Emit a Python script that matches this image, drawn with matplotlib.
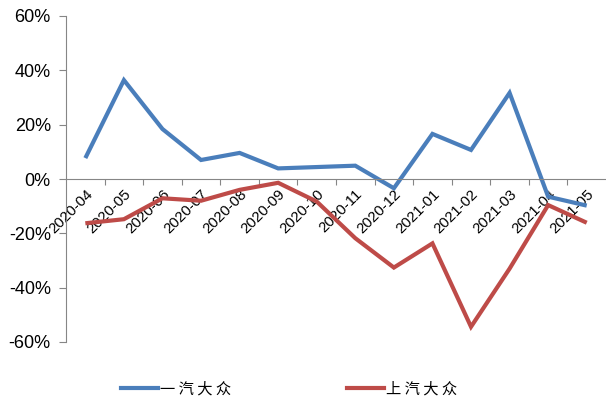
import matplotlib
matplotlib.use("Agg")
import matplotlib.pyplot as plt
from matplotlib.ticker import FixedLocator, FuncFormatter
from matplotlib.lines import Line2D

plt.rcParams['font.family'] = ['Liberation Sans', 'Noto Sans CJK SC', 'DejaVu Sans']

months = ["2020-04", "2020-05", "2020-06", "2020-07", "2020-08", "2020-09", "2020-10",
          "2020-11", "2020-12", "2021-01", "2021-02", "2021-03", "2021-04", "2021-05"]
faw_vw = [7.7, 36.4, 18.4, 7.0, 9.6, 3.9, 4.4, 4.9, -3.4, 16.6, 10.7, 31.7, -6.5, -9.8]
saic_vw = [-16.3, -14.8, -7.1, -8.0, -4.0, -1.4, -8.3, -21.8, -32.6, -23.7, -54.4, -33.0, -9.6, -16.1]
series_names = ["一汽大众", "上汽大众"]
colors = ["#4A7EBB", "#BE4B48"]
yticks = [-60, -40, -20, 0, 20, 40, 60]

fig = plt.figure(figsize=(6.06, 4.0), dpi=100)
ax = fig.add_axes([0.109, 0.145, 0.891, 0.815])

x = list(range(len(months)))
ax.plot(x, faw_vw, color=colors[0], lw=3.0, solid_joinstyle='miter', solid_capstyle='butt')
ax.plot(x, saic_vw, color=colors[1], lw=3.0, solid_joinstyle='miter', solid_capstyle='butt')

ax.set_xlim(-0.5, len(months) - 0.5)
ax.set_ylim(-60, 60)

spine_c = "#868686"
for s in ["top", "right"]:
    ax.spines[s].set_visible(False)
ax.spines["left"].set_color(spine_c)
ax.spines["bottom"].set_color(spine_c)
ax.spines["bottom"].set_position(("data", 0))

ax.yaxis.set_major_locator(FixedLocator(yticks))
ax.yaxis.set_major_formatter(FuncFormatter(lambda v, p: f"{v:.0f}%"))
ax.tick_params(axis='y', direction='out', length=5, color=spine_c, labelsize=13, pad=6)

# category boundary ticks, labels centred on categories
ax.xaxis.set_major_locator(FixedLocator([i + 0.5 for i in range(len(months) - 1)]))
ax.xaxis.set_major_formatter(FuncFormatter(lambda v, p: ""))
ax.tick_params(axis='x', which='major', direction='out', length=4, color=spine_c)
ax.set_xticks(x, minor=True)
ax.set_xticklabels(months, minor=True, rotation=45, ha='right', va='top',
                   rotation_mode='anchor', fontsize=10.8)
ax.tick_params(axis='x', which='minor', length=0, pad=6)

handles = [Line2D([], [], color=c, lw=3.0) for c in colors]
fig.legend(handles, [" ".join(n) for n in series_names], loc='center',
           bbox_to_anchor=(0.477, 0.027), ncol=2,
           frameon=False, handlelength=2.4, handletextpad=0.15, columnspacing=7.6,
           prop={'family': ['Noto Sans CJK SC', 'DejaVu Sans'], 'size': 11})

fig.savefig("out.png", dpi=100)
